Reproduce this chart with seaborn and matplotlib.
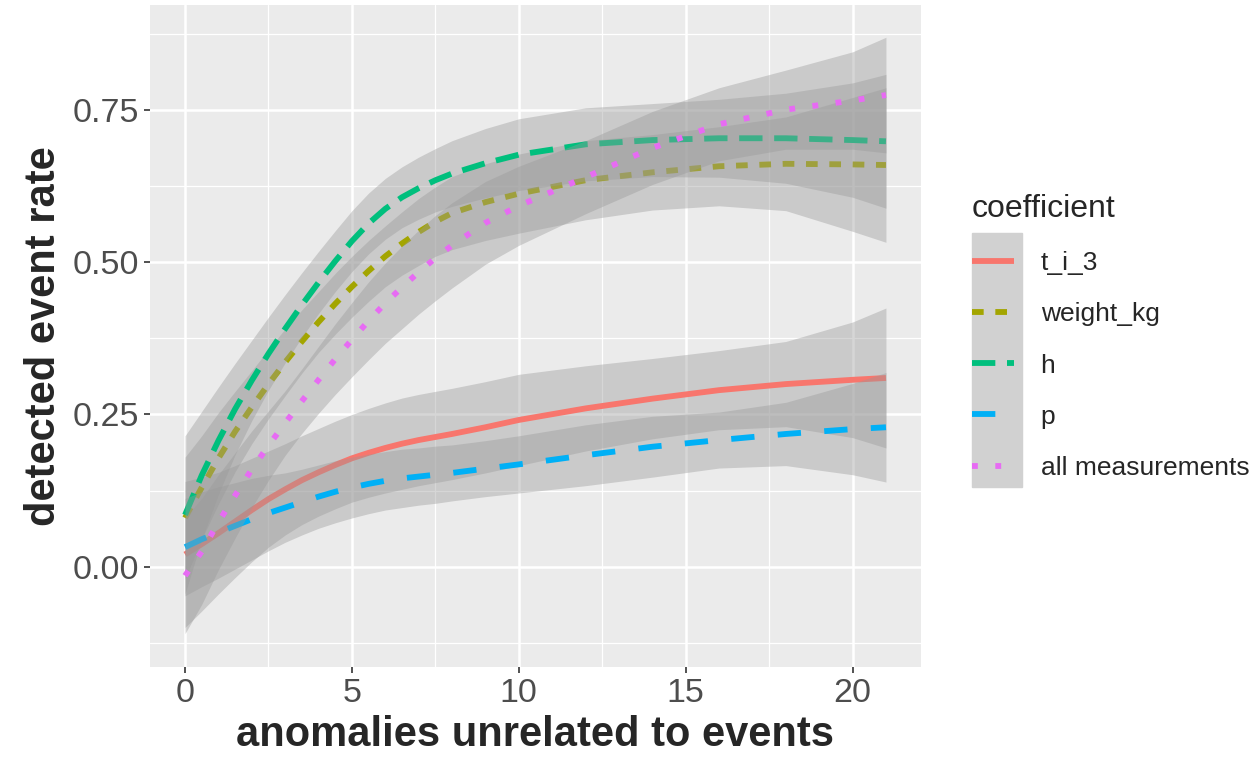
import matplotlib
matplotlib.use("Agg")
import matplotlib.pyplot as plt
from matplotlib.lines import Line2D
from matplotlib.patches import Rectangle
from matplotlib.ticker import MultipleLocator, FormatStrFormatter
import seaborn as sns
import pandas as pd

# ---------------- data ----------------
x_vals = [0, 0.5, 1, 1.5, 2, 2.5, 3, 3.5, 4, 4.5, 5, 5.5, 6, 6.5, 7, 7.5, 8,
          9, 10, 12, 14, 16, 18, 20, 21]
coefficients = ["t_i_3", "weight_kg", "h", "p", "all measurements"]

t_i_3_fit = [0.02, 0.037, 0.055, 0.074, 0.093, 0.111, 0.127, 0.142, 0.155, 0.167, 0.178, 0.187, 0.195,
             0.202, 0.208, 0.213, 0.218, 0.229, 0.241, 0.26, 0.276, 0.29, 0.30, 0.307, 0.31]
t_i_3_lo = [-0.10, -0.073, -0.045, -0.018, 0.008, 0.032, 0.052, 0.069, 0.083, 0.095, 0.106, 0.114, 0.121,
            0.127, 0.133, 0.138, 0.143, 0.154, 0.166, 0.19, 0.21, 0.225, 0.23, 0.212, 0.195]
t_i_3_hi = [0.14, 0.147, 0.155, 0.166, 0.178, 0.19, 0.202, 0.215, 0.227, 0.239, 0.25, 0.26, 0.269,
            0.277, 0.283, 0.288, 0.293, 0.304, 0.316, 0.33, 0.342, 0.355, 0.37, 0.402, 0.425]

weight_kg_fit = [0.08, 0.13, 0.178, 0.222, 0.262, 0.30, 0.336, 0.37, 0.402, 0.432, 0.46, 0.486, 0.51,
                 0.531, 0.55, 0.567, 0.581, 0.599, 0.613, 0.635, 0.648, 0.658, 0.662, 0.661, 0.66]
weight_kg_lo = [-0.02, 0.045, 0.103, 0.156, 0.202, 0.243, 0.281, 0.318, 0.352, 0.382, 0.41, 0.436, 0.46,
                0.479, 0.495, 0.51, 0.521, 0.536, 0.548, 0.57, 0.586, 0.593, 0.585, 0.551, 0.533]
weight_kg_hi = [0.18, 0.215, 0.253, 0.288, 0.322, 0.357, 0.391, 0.422, 0.452, 0.482, 0.51, 0.536, 0.56,
                0.583, 0.605, 0.624, 0.641, 0.662, 0.678, 0.70, 0.71, 0.723, 0.739, 0.771, 0.787]

h_fit = [0.085, 0.15, 0.207, 0.259, 0.306, 0.35, 0.391, 0.43, 0.467, 0.502, 0.535, 0.564, 0.588,
         0.607, 0.622, 0.635, 0.646, 0.663, 0.677, 0.694, 0.701, 0.704, 0.704, 0.701, 0.699]
h_lo = [-0.045, 0.045, 0.119, 0.184, 0.24, 0.29, 0.335, 0.377, 0.416, 0.452, 0.485, 0.514, 0.538,
        0.557, 0.571, 0.583, 0.592, 0.606, 0.618, 0.634, 0.641, 0.64, 0.63, 0.607, 0.589]
h_hi = [0.215, 0.255, 0.295, 0.334, 0.372, 0.41, 0.447, 0.483, 0.518, 0.552, 0.585, 0.614, 0.638,
        0.657, 0.673, 0.687, 0.70, 0.72, 0.736, 0.754, 0.761, 0.768, 0.778, 0.795, 0.809]

p_fit = [0.032, 0.045, 0.056, 0.067, 0.078, 0.088, 0.097, 0.106, 0.115, 0.123, 0.13, 0.136, 0.141,
         0.145, 0.148, 0.151, 0.154, 0.161, 0.168, 0.183, 0.197, 0.208, 0.218, 0.226, 0.229]
p_lo = [-0.048, -0.033, -0.019, -0.004, 0.011, 0.026, 0.04, 0.052, 0.063, 0.072, 0.08, 0.087, 0.093,
        0.097, 0.101, 0.104, 0.108, 0.115, 0.121, 0.133, 0.147, 0.162, 0.166, 0.151, 0.139]
p_hi = [0.112, 0.123, 0.131, 0.138, 0.145, 0.15, 0.154, 0.16, 0.167, 0.174, 0.18, 0.185, 0.189,
        0.193, 0.195, 0.198, 0.20, 0.207, 0.215, 0.233, 0.247, 0.254, 0.27, 0.301, 0.319]

all_fit = [-0.015, 0.025, 0.073, 0.117, 0.16, 0.199, 0.236, 0.272, 0.307, 0.341, 0.373, 0.404, 0.433,
           0.459, 0.484, 0.507, 0.528, 0.565, 0.593, 0.64, 0.688, 0.727, 0.751, 0.766, 0.775]
all_lo = [-0.11, -0.062, -0.005, 0.047, 0.097, 0.142, 0.183, 0.219, 0.252, 0.283, 0.312, 0.34, 0.367,
          0.391, 0.415, 0.437, 0.458, 0.497, 0.528, 0.58, 0.628, 0.667, 0.686, 0.686, 0.68]
all_hi = [0.08, 0.112, 0.151, 0.187, 0.223, 0.256, 0.289, 0.325, 0.362, 0.399, 0.434, 0.468, 0.499,
          0.527, 0.553, 0.577, 0.598, 0.633, 0.658, 0.70, 0.748, 0.787, 0.816, 0.846, 0.87]

fits = {"t_i_3": t_i_3_fit, "weight_kg": weight_kg_fit, "h": h_fit, "p": p_fit, "all measurements": all_fit}
lows = {"t_i_3": t_i_3_lo, "weight_kg": weight_kg_lo, "h": h_lo, "p": p_lo, "all measurements": all_lo}
highs = {"t_i_3": t_i_3_hi, "weight_kg": weight_kg_hi, "h": h_hi, "p": p_hi, "all measurements": all_hi}

# ggplot hue colours and linetypes (solid, 22, 42, 44, 13)
colors = {"t_i_3": "#F8766D", "weight_kg": "#A3A500", "h": "#00BF7D", "p": "#00B0F6", "all measurements": "#E76BF3"}
dash_map = {"t_i_3": "", "weight_kg": (2, 2), "h": (4, 2), "p": (4, 4), "all measurements": (1, 3)}

rows = []
for c in coefficients:
    for xv, yv in zip(x_vals, fits[c]):
        rows.append({"anomalies": xv, "rate": yv, "coefficient": c})
df = pd.DataFrame(rows)

# ---------------- style ----------------
sns.set_theme(style="darkgrid", rc={
    "axes.facecolor": "#EBEBEB",
    "figure.facecolor": "white",
    "grid.color": "white",
    "axes.edgecolor": "#EBEBEB",
})
plt.rcParams["font.family"] = ["Liberation Sans", "DejaVu Sans"]

LW = 4.2

fig = plt.figure(figsize=(12.51, 7.61), dpi=100)
ax = fig.add_axes([150 / 1251, 1 - 667 / 761, 771 / 1251, 662 / 761])

# ribbons and lines drawn group by group like geom_smooth
for i, c in enumerate(coefficients):
    ax.fill_between(x_vals, lows[c], highs[c], color="#999999", alpha=0.4,
                    linewidth=0, zorder=2 + 2 * i)

sns.lineplot(data=df, x="anomalies", y="rate", hue="coefficient", style="coefficient",
             hue_order=coefficients, style_order=coefficients, palette=colors,
             dashes=dash_map, linewidth=LW, errorbar=None, legend=False, ax=ax)
for i, line in enumerate(ax.lines):
    line.set_zorder(3 + 2 * i)
    line.set_dash_capstyle("butt")
    line.set_solid_capstyle("butt")

ax.set_xlim(-1.05, 22.05)
ax.set_ylim(-0.165, 0.923)
ax.set_xticks([0, 5, 10, 15, 20])
ax.set_yticks([0.0, 0.25, 0.5, 0.75])
ax.yaxis.set_major_formatter(FormatStrFormatter("%.2f"))
ax.xaxis.set_minor_locator(MultipleLocator(2.5))
ax.yaxis.set_minor_locator(MultipleLocator(0.125))
ax.set_axisbelow(True)
ax.grid(which="major", color="white", linewidth=1.8)
ax.grid(which="minor", color="white", linewidth=0.9)
ax.tick_params(which="major", length=4, width=1.2, color="#333333",
               labelsize=24.5, labelcolor="#4D4D4D", pad=4, bottom=True, left=True)
ax.tick_params(which="minor", length=0)
for s in ax.spines.values():
    s.set_visible(False)

ax.set_xlabel("anomalies unrelated to events", fontsize=30, fontweight="bold", labelpad=4)
ax.set_ylabel("detected event rate", fontsize=30, fontweight="bold", labelpad=6)

# ---------------- legend ----------------
handles = []
for c in coefficients:
    ls = "-" if dash_map[c] == "" else (0, dash_map[c])
    handles.append(Line2D([], [], color=colors[c], linewidth=LW, linestyle=ls,
                          dash_capstyle="butt", solid_capstyle="butt"))

fig.patches.append(Rectangle((972 / 1251, 1 - 487 / 761), 50 / 1251, 254 / 761,
                             transform=fig.transFigure, color="#D1D1D1", zorder=-1))
leg = fig.legend(handles, coefficients, loc="upper left",
                 bbox_to_anchor=(972 / 1251, 1 - 194 / 761), bbox_transform=fig.transFigure,
                 title="coefficient", fontsize=19, title_fontsize=23, frameon=False,
                 handlelength=1.6, handletextpad=1.0, labelspacing=1.03, borderpad=0,
                 borderaxespad=0, alignment="left")

fig.savefig("out.png", dpi=100)
